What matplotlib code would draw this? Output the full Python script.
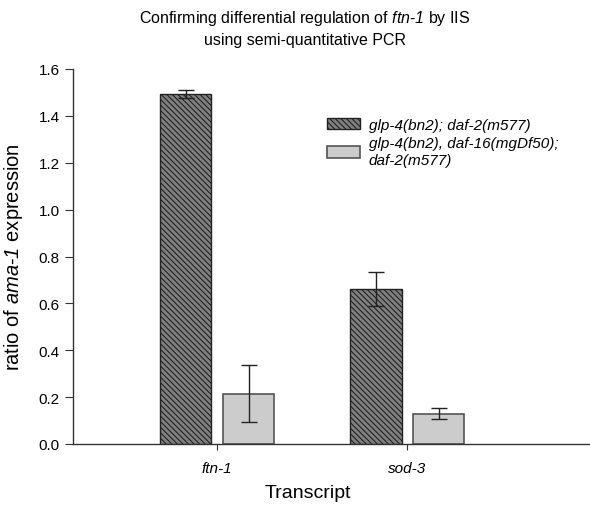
import matplotlib
matplotlib.use('Agg')
import matplotlib.pyplot as plt
import numpy as np

# data
transcripts = ["ftn-1", "sod-3"]
strain_labels = ["glp-4(bn2); daf-2(m577)",
                 "glp-4(bn2), daf-16(mgDf50);\ndaf-2(m577)"]
ratio_daf2 = [1.495, 0.66]
err_daf2 = [0.017, 0.072]
ratio_daf16 = [0.215, 0.13]
err_daf16 = [0.123, 0.022]
yticks = [0.0, 0.2, 0.4, 0.6, 0.8, 1.0, 1.2, 1.4, 1.6]

plt.rcParams['font.family'] = ['Liberation Sans', 'DejaVu Sans']
plt.rcParams['mathtext.fontset'] = 'custom'
plt.rcParams['mathtext.it'] = 'Liberation Sans:italic'
plt.rcParams['mathtext.rm'] = 'Liberation Sans:italic'
plt.rcParams['hatch.linewidth'] = 0.8
plt.rcParams['hatch.color'] = '#1a1a1a'

fig = plt.figure(figsize=(5.9, 5.06), dpi=100)
ax = fig.add_axes([73 / 590, 1 - 445 / 506, 1 - 73 / 590, (445 - 70) / 506])

x = np.arange(len(transcripts))
width = 0.27
off = 0.165

ax.bar(x - off, ratio_daf2, width, color='#808080', edgecolor='#222222',
       linewidth=1.0, hatch='\\\\\\\\\\\\', label=strain_labels[0], zorder=2)
ax.bar(x + off, ratio_daf16, width, color='#cccccc', edgecolor='#555555',
       linewidth=1.2, label=strain_labels[1], zorder=2)
ax.errorbar(x - off, ratio_daf2, yerr=err_daf2, fmt='none', ecolor='#222222',
            elinewidth=1.0, capsize=6, capthick=1.0, zorder=3)
ax.errorbar(x + off, ratio_daf16, yerr=err_daf16, fmt='none', ecolor='#222222',
            elinewidth=1.0, capsize=6, capthick=1.0, zorder=3)

ax.set_xlim(-0.758, 1.96)
ax.set_ylim(0, 1.6)
ax.set_yticks(yticks)
ax.set_yticklabels([f"{v:.1f}" for v in yticks], fontsize=11)
ax.set_xticks(x)
ax.set_xticklabels(transcripts, fontsize=11, style='italic')
ax.tick_params(axis='x', length=4, pad=8, color='#333333')
ax.tick_params(axis='y', length=6, color='#333333')

for s in ['top', 'right']:
    ax.spines[s].set_visible(False)
for s in ['left', 'bottom']:
    ax.spines[s].set_color('#333333')
    ax.spines[s].set_linewidth(1.0)

ax.set_ylabel(r"ratio of $\mathrm{ama}$-$\mathrm{1}$ expression", fontsize=14.5, labelpad=10)
fig.text(308 / 590, 1 - 494 / 506, "Transcript", ha='center', va='center', fontsize=14)

fig.text(305 / 590, 1 - 18 / 506,
         r"Confirming differential regulation of $\mathrm{ftn}$-$\mathrm{1}$ by IIS",
         ha='center', va='center', fontsize=11.5)
fig.text(305 / 590, 1 - 40 / 506, "using semi-quantitative PCR",
         ha='center', va='center', fontsize=11.5)

leg = ax.legend(loc='upper left', bbox_to_anchor=(313 / 590, 1 - 105 / 506),
                bbox_transform=fig.transFigure, frameon=False,
                prop={'style': 'italic', 'size': 11},
                handlelength=2.2, handleheight=0.8, handletextpad=0.55,
                labelspacing=0.3)

fig.savefig("out.png", dpi=100)
